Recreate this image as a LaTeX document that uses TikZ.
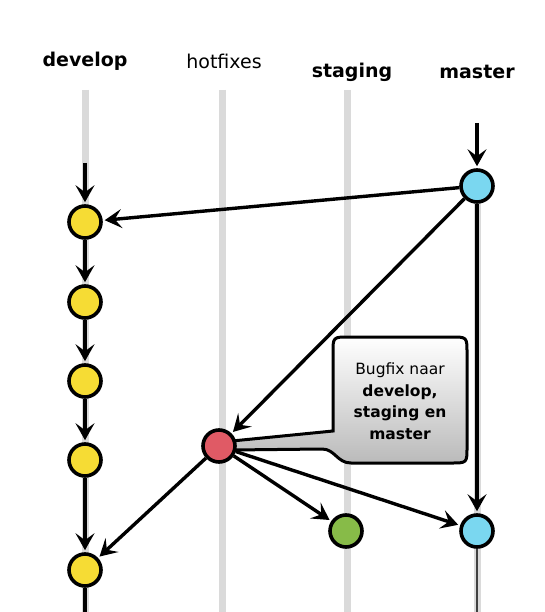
\documentclass[tikz,border=0pt]{standalone}
\usepackage{fontspec}
\setmainfont{DejaVu Sans}
\usetikzlibrary{arrows.meta,shadings}
\definecolor{devyellow}{HTML}{F6DC34}
\definecolor{mblue}{HTML}{7AD7F0}
\definecolor{hred}{HTML}{E05A65}
\definecolor{sgreen}{HTML}{87BB48}
\definecolor{lanegray}{HTML}{DADADA}
\begin{document}
\begin{tikzpicture}[x=1pt,y=-1pt,
  lane/.style={line width=7pt, draw=lanegray},
  commit/.style={circle, draw=black, line width=3.6pt, minimum size=32pt, inner sep=0pt},
  flow/.style={line width=3.4pt, shorten >=2pt, -{Stealth[length=17pt,width=19pt,inset=7pt]}},
  plain/.style={line width=3.4pt},
  lblb/.style={font=\fontsize{19}{22}\selectfont\bfseries},
  lbln/.style={font=\fontsize{19}{22}\selectfont},
  callout/.style={line width=3pt, draw=black, top color=white, bottom color=black!27}
]
\useasboundingbox (0,0) rectangle (544,612);

% lanes
\draw[lane] (85,90) -- (85,612);
\draw[lane] (222,90) -- (222,612);
\draw[lane] (347,90) -- (347,612);
\draw[lane] (477,186) -- (477,612);

% labels
\node[lblb] (ldev) at (85,61) {develop};
\node[lbln] (lhot) at (224,61) {hotfixes};
\node[lblb] (lsta) at (352,72) {staging};
\node[lblb] (lmas) at (477,72) {master};

% free ends
\coordinate (dtop) at (85,163);
\coordinate (mtop) at (477,123);
\coordinate (dbot) at (85,612);
\coordinate (mbot) at (477,612);

% callout
\draw[callout] (232,441) -- (333,431) -- (333,353) .. controls (333,337) .. (349,337)
  -- (451,337) .. controls (467,337) .. (467,353) -- (467,447)
  .. controls (467,463) .. (451,463) -- (351,463)
  .. controls (337,463) and (335,449) .. (322,449) -- (232,450) -- cycle;
\node[align=center, font=\fontsize{15.5}{21.5}\selectfont] (call) at (400,401)
  {Bugfix naar\\\textbf{develop,}\\\textbf{staging en}\\\textbf{master}};

% commits
\node[commit, fill=devyellow] (d1) at (85,222) {};
\node[commit, fill=devyellow] (d2) at (85,302) {};
\node[commit, fill=devyellow] (d3) at (85,381) {};
\node[commit, fill=devyellow] (d4) at (85,460) {};
\node[commit, fill=devyellow] (d5) at (85,570) {};
\node[commit, fill=mblue] (m1) at (477,186) {};
\node[commit, fill=mblue] (m2) at (477,531) {};
\node[commit, fill=hred] (h1) at (219,446) {};
\node[commit, fill=sgreen] (s1) at (346,531) {};

% connectors
\draw[flow] (dtop) -- (d1);
\draw[flow] (d1) -- (d2);
\draw[flow] (d2) -- (d3);
\draw[flow] (d3) -- (d4);
\draw[flow] (d4) -- (d5);
\draw[plain] (d5) -- (dbot);
\draw[flow] (mtop) -- (m1);
\draw[flow] (m1) -- (d1);
\draw[flow] (m1) -- (h1);
\draw[flow] (m1) -- (m2);
\draw[line width=2.2pt, black!75] (m2) -- (mbot);
\draw[flow] (h1) -- (d5);
\draw[flow] (h1) -- (s1);
\draw[flow] (h1) -- (m2);
\end{tikzpicture}
\end{document}
